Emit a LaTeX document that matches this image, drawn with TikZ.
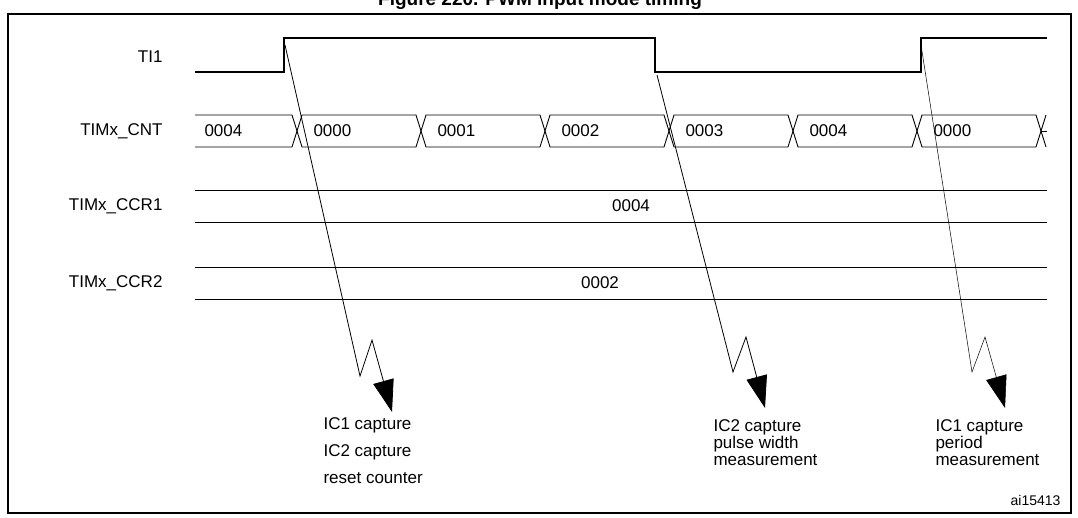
\documentclass[tikz,border=0pt]{standalone}
\usepackage{fontspec}
\setmainfont{Liberation Sans}
\usetikzlibrary{arrows.meta}
\begin{document}
\begin{tikzpicture}[x=1pt,y=-1pt,
  sig/.style={line width=1.2pt},
  bus/.style={line width=0.9pt},
  lbl/.style={anchor=east,font=\fontsize{17}{19}\selectfont},
  val/.style={anchor=west,font=\fontsize{17}{19}\selectfont},
  captxt/.style={anchor=north west,align=left,font=\fontsize{17}{17}\selectfont},
  evt/.style={line width=0.8pt,-{Triangle[length=32pt,width=21pt]}}]
\useasboundingbox (0,0) rectangle (1078,518);
\node[font=\bfseries\fontsize{19}{21}\selectfont] (title) at (540,1) {Figure 220. PWM input mode timing};
\draw[line width=1.5pt] (8,14) rectangle (1071,513);
% labels
\node[lbl] (lti) at (166,57) {TI1};
\node[lbl] (lcnt) at (166,131) {TIMx\_CNT};
\node[lbl] (lc1) at (166,206) {TIMx\_CCR1};
\node[lbl] (lc2) at (166,283) {TIMx\_CCR2};
% TI1
\draw[sig] (195,72) -- (284,72) -- (284,38) -- (655,38) -- (655,72) -- (921,72) -- (921,38) -- (1047,38);
% CNT bus
\draw[bus] (195,115) -- (292,115) -- (302,147) -- (416,147) -- (426,115) -- (540,115) -- (550,147) -- (664,147) -- (674,115) -- (788,115) -- (798,147) -- (912,147) -- (922,115) -- (1036,115) -- (1046,147);
\draw[bus] (195,147) -- (292,147) -- (302,115) -- (416,115) -- (426,147) -- (540,147) -- (550,115) -- (664,115) -- (674,147) -- (788,147) -- (798,115) -- (912,115) -- (922,147) -- (1036,147) -- (1046,115);
\draw[bus] (1041,131) -- (1047,131);
\foreach \x/\v [count=\i] in {201/0004,310/0000,434/0001,558/0002,682/0003,806/0004,930/0000}
  \node[val] (v\i) at (\x,131) {\v};
% CCR
\draw[bus] (195,190) -- (1047,190); \draw[bus] (195,222) -- (1047,222);
\node[font=\fontsize{17}{19}\selectfont] (c1) at (631,206) {0004};
\draw[bus] (195,267) -- (1047,267); \draw[bus] (195,299) -- (1047,299);
\node[font=\fontsize{17}{19}\selectfont] (c2) at (600,283) {0002};
% event arrows
\coordinate (s1) at (285,45); \coordinate (t1) at (392,412);
\coordinate (s2) at (657,75); \coordinate (t2) at (765,408);
\coordinate (s3) at (921,45); \coordinate (t3) at (1005,408);
\draw[evt] (s1) -- (360,376) -- (372,340) -- (t1);
\draw[evt] (s2) -- (733,372) -- (746,337) -- (t2);
\draw[evt, line width=0.5pt] (s3) -- (972,372) -- (985,337) -- (t3);
\node[captxt] (n1) at (320,414) {IC1 capture\\[10pt]IC2 capture\\[10pt]reset counter};
\node[captxt] (n2) at (710,416) {IC2 capture\\pulse width\\measurement};
\node[captxt] (n3) at (932,416) {IC1 capture\\period\\measurement};
\node[anchor=east,font=\fontsize{14}{16}\selectfont] (id) at (1064,500) {ai15413};
\end{tikzpicture}
\end{document}
